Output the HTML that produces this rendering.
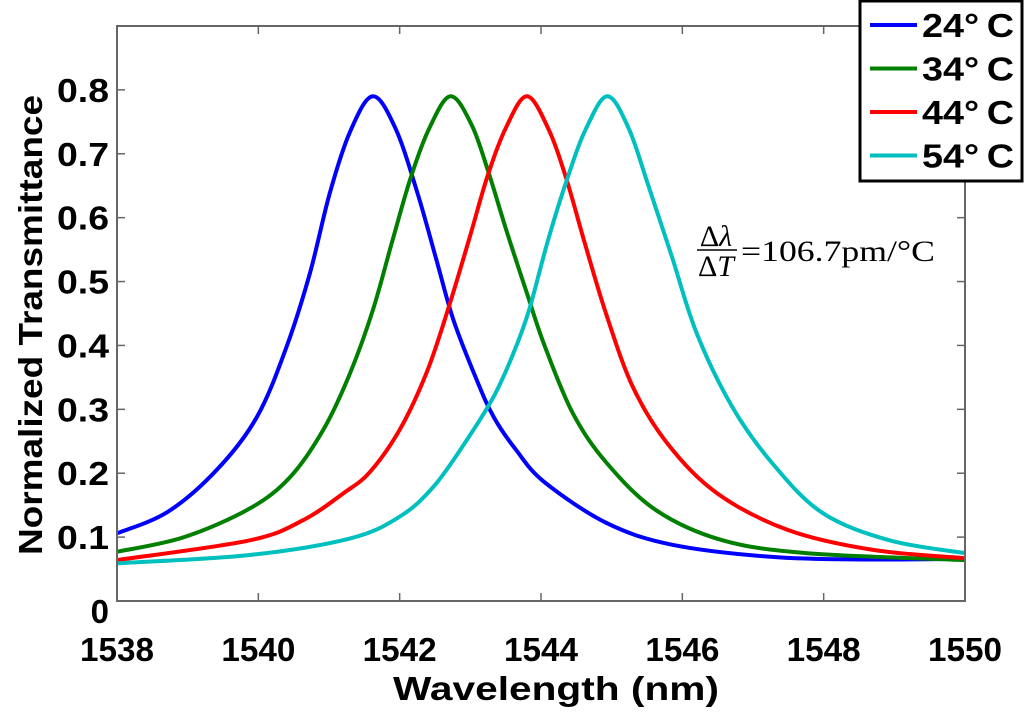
<!DOCTYPE html>
<html><head><meta charset="utf-8"><style>
html,body{margin:0;padding:0;background:#fff;}
svg{display:block;font-family:"Liberation Sans",Arial,sans-serif;}
</style></head><body>
<svg id="chart" width="1024" height="713" viewBox="0 0 1024 713">
<defs><clipPath id="pc"><rect x="117" y="26" width="848" height="575"/></clipPath></defs>
<rect x="0" y="0" width="1024" height="713" fill="#fff"/>
<g id="grid-ticks"></g>
<g id="series" clip-path="url(#pc)"></g>
<rect x="117" y="26" width="848" height="575" fill="none" stroke="#666" stroke-width="2"/>
<g id="labels"></g>
<text x="556" y="700" text-anchor="middle" font-size="33" font-weight="bold" textLength="326" lengthAdjust="spacingAndGlyphs">Wavelength (nm)</text>
<text transform="translate(42,325) rotate(-90)" text-anchor="middle" font-size="33" font-weight="bold" textLength="460" lengthAdjust="spacingAndGlyphs">Normalized Transmittance</text>
<g font-family="Liberation Serif,serif">
<text x="716" y="246" text-anchor="middle" font-size="30">Δ<tspan font-style="italic">λ</tspan></text>
<line x1="697" y1="250" x2="737" y2="250" stroke="#000" stroke-width="1.5"/>
<text x="716" y="276" text-anchor="middle" font-size="30">Δ<tspan font-style="italic">T</tspan></text>
<text x="741" y="261" font-size="30" textLength="194" lengthAdjust="spacingAndGlyphs">=106.7pm/°C</text>
</g>
<g>
<rect x="860" y="1" width="162" height="180" fill="#fff" stroke="#000" stroke-width="3"/>
<g id="legend-items"></g>
</g>
</svg>
<script>
const xTicks=[1538,1540,1542,1544,1546,1548,1550];
const yTicks=[0,0.1,0.2,0.3,0.4,0.5,0.6,0.7,0.8];
const yTickLabels=["0","0.1","0.2","0.3","0.4","0.5","0.6","0.7","0.8"];
const seriesNames=["24°C","34°C","44°C","54°C"];
const seriesColors=["#0000ff","#007f00","#ff0000","#00bfbf"];
const wl24=[1538,1538.71,1539.41,1539.98,1540.40,1540.73,1541.01,1541.3,1541.62,1541.94,1542.24,1542.52,1542.76,1543.09,1543.33,1543.65,1544.05,1544.93,1545.86,1547.27,1548.6,1550];
const t24=[0.106,0.139,0.205,0.288,0.398,0.513,0.638,0.735,0.790,0.740,0.643,0.534,0.440,0.346,0.288,0.236,0.186,0.122,0.088,0.069,0.065,0.066];
const wl34=[1538,1538.95,1539.88,1540.45,1540.92,1541.30,1541.62,1541.9,1542.16,1542.42,1542.72,1543.02,1543.26,1543.51,1543.80,1544.05,1544.45,1544.93,1545.63,1546.57,1547.75,1549.77,1550];
const t34=[0.077,0.100,0.145,0.194,0.268,0.357,0.455,0.565,0.664,0.740,0.790,0.745,0.670,0.580,0.482,0.400,0.294,0.216,0.142,0.095,0.075,0.065,0.065];
const wl44=[1538,1539.88,1540.64,1541.21,1541.58,1542.0,1542.38,1542.68,1542.98,1543.24,1543.5,1543.8,1544.1,1544.35,1544.62,1544.92,1545.3,1545.8,1546.5,1547.5,1548.7,1550];
const t44=[0.064,0.095,0.127,0.169,0.202,0.268,0.357,0.455,0.565,0.664,0.740,0.790,0.740,0.664,0.560,0.450,0.335,0.245,0.168,0.111,0.080,0.067];
const wl54=[1538,1539.88,1541.30,1542.0,1542.48,1542.95,1543.33,1543.6,1543.83,1544.1,1544.38,1544.64,1544.94,1545.24,1545.52,1545.85,1546.2,1546.7,1547.27,1547.98,1548.93,1550];
const t54=[0.059,0.072,0.098,0.132,0.179,0.252,0.320,0.385,0.455,0.565,0.664,0.740,0.790,0.740,0.650,0.540,0.420,0.305,0.216,0.138,0.095,0.075];
const allWl=[wl24,wl34,wl44,wl54];
const allT=[t24,t34,t44,t54];

const NS="http://www.w3.org/2000/svg";
const X0=117,X1=965,Y0=601,YTOP=26,XMIN=1538,XMAX=1550,YMAX=0.9;
function sx(v){return X0+(v-XMIN)/(XMAX-XMIN)*(X1-X0);}
function sy(v){return Y0-v/YMAX*(Y0-YTOP);}
function mk(tag,attrs,parent){const e=document.createElementNS(NS,tag);for(const k in attrs)e.setAttribute(k,attrs[k]);parent.appendChild(e);return e;}

const tg=document.getElementById('grid-ticks');
const lg=document.getElementById('labels');
xTicks.forEach(v=>{
  const x=sx(v);
  const t1=mk('line',{x1:x,y1:Y0,x2:x,y2:Y0-8,stroke:'#666','stroke-width':1.5},tg);
  
  
  const t2=mk('line',{x1:x,y1:YTOP,x2:x,y2:YTOP+8,stroke:'#666','stroke-width':1.5},tg);
  
  
  const tx=mk('text',{x:x,y:661,'text-anchor':'middle','font-size':33,'font-weight':'bold',textLength:74,lengthAdjust:'spacingAndGlyphs'},lg);
  tx.textContent=String(v);
  
  
});
yTicks.forEach((v,i)=>{
  const y=sy(v);
  const t1=mk('line',{x1:X0,y1:y,x2:X0+8,y2:y,stroke:'#666','stroke-width':1.5},tg);
  
  
  const t2=mk('line',{x1:X1,y1:y,x2:X1-8,y2:y,stroke:'#666','stroke-width':1.5},tg);
  
  
  const attrs={x:109,y:y+(i===0?22:12),'text-anchor':'end','font-size':33,'font-weight':'bold'};
  if(i>0){attrs.textLength=52;attrs.lengthAdjust='spacingAndGlyphs';}
  const tx=mk('text',attrs,lg);
  tx.textContent=yTickLabels[i];
  
  
});

function smoothPath(xs,ys){
  const p=xs.map((x,i)=>[sx(x),sy(ys[i])]);
  let d='M'+p[0][0].toFixed(1)+','+p[0][1].toFixed(1);
  for(let i=0;i<p.length-1;i++){
    const p0=p[Math.max(0,i-1)],p1=p[i],p2=p[i+1],p3=p[Math.min(p.length-1,i+2)];
    const c1=[p1[0]+(p2[0]-p0[0])/6,p1[1]+(p2[1]-p0[1])/6];
    const c2=[p2[0]-(p3[0]-p1[0])/6,p2[1]-(p3[1]-p1[1])/6];
    d+=' C'+c1[0].toFixed(1)+','+c1[1].toFixed(1)+' '+c2[0].toFixed(1)+','+c2[1].toFixed(1)+' '+p2[0].toFixed(1)+','+p2[1].toFixed(1);
  }
  return d;
}
const sg=document.getElementById('series');
allWl.forEach((wl,k)=>{
  const pth=mk('path',{d:smoothPath(wl,allT[k]),fill:'none',stroke:seriesColors[k],'stroke-width':4,'stroke-linejoin':'round'},sg);
  
  
});
const li=document.getElementById('legend-items');
seriesNames.forEach((n,k)=>{
  const y=25+k*43.5;
  const ln=mk('line',{x1:870,y1:y,x2:917,y2:y,stroke:seriesColors[k],'stroke-width':4},li);
  
  
  const tx=mk('text',{x:922,y:y+12,'font-size':33,'font-weight':'bold',textLength:92,lengthAdjust:'spacingAndGlyphs'},li);
  tx.textContent=n.replace('°C','°\u2009C');
  
  
});
</script>
</body></html>
